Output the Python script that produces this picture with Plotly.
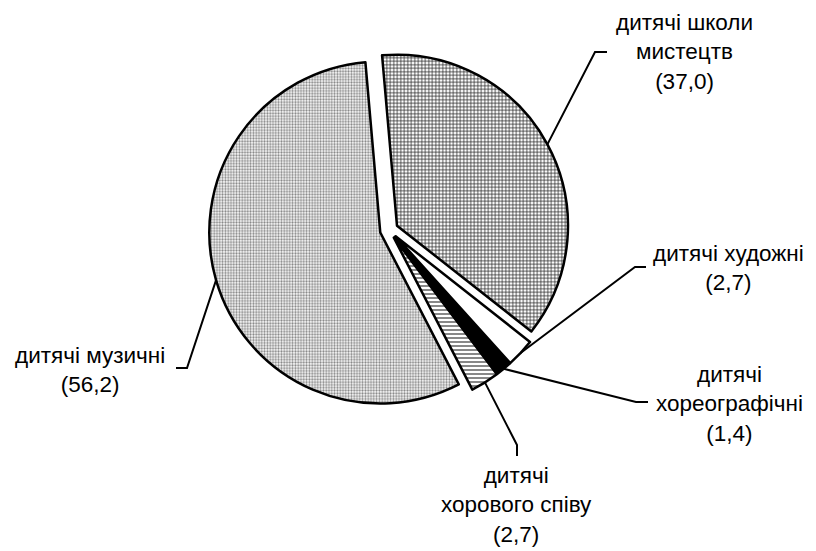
import math
import plotly.graph_objects as go

# ---- data ----
categories = ["дитячі школи мистецтв", "дитячі художні", "дитячі хореографічні",
              "дитячі хорового співу", "дитячі музичні"]
values = [37.0, 2.7, 1.4, 2.7, 56.2]
label_lines = ["дитячі школи<br>мистецтв", "дитячі художні", "дитячі<br>хореографічні",
               "дитячі<br>хорового співу", "дитячі музичні"]

# ---- layout / style ----
W, H = 816, 551
CX, CY = 389, 230          # pie centre in px
R = 171                    # pie radius in px
PULL = 0.053
ROT = -5
FONT = "Liberation Sans, Arial, sans-serif"
FS = 22.5

fill_colors = ["white", "white", "black", "white", "white"]
pat_shapes = ["+", "", "", "-", "."]
pat_fg = ["#222222", "white", "black", "#555555", "#808080"]
pat_bg = ["white", "white", "black", "white", "white"]
pat_size = [3.5, 4, 4, 4, 2.8]
pat_solid = [0.38, 0.3, 0.3, 0.35, 0.45]

# label anchor (px), elbow point and end of the leader line (px)
label_pos = [(684, 52), (728, 268), (729, 404), (516, 505), (90, 370)]
elbow = [(595, 52), (635, 267), (636, 402), (517, 445), (187, 368)]
leader_end = [(607, 52), (646, 267), (648, 402), (517, 456), (176, 368)]

half = R * (1 + PULL)
fig = go.Figure(go.Pie(
    labels=categories, values=values, sort=False, direction="clockwise",
    rotation=ROT, pull=[PULL] * len(values), textinfo="none", showlegend=False,
    hoverinfo="none",
    marker=dict(colors=fill_colors, line=dict(color="black", width=2.5),
                pattern=dict(shape=pat_shapes, fgcolor=pat_fg, bgcolor=pat_bg,
                             size=pat_size, solidity=pat_solid, fillmode="replace")),
    domain=dict(x=[(CX - half) / W, (CX + half) / W],
                y=[1 - (CY + half) / H, 1 - (CY - half) / H]),
))

def px(x, y):
    return x / W, 1 - y / H

total = sum(values)
cum = 0.0
shapes, annotations = [], []
for i, v in enumerate(values):
    mid = (cum + v / 2) / total
    cum += v
    ang = math.radians(ROT + 360 * mid)
    dx, dy = math.sin(ang), -math.cos(ang)
    sx, sy = CX + R * (1 + PULL) * dx, CY + R * (1 + PULL) * dy
    pts = [px(sx, sy), px(*elbow[i]), px(*leader_end[i])]
    path = "M {} {} L {} {} L {} {}".format(*[c for p in pts for c in p])
    shapes.append(dict(type="path", path=path, xref="paper", yref="paper",
                       line=dict(color="black", width=2)))
    lx, ly = px(*label_pos[i])
    txt = label_lines[i] + "<br>(" + f"{v:.1f}".replace(".", ",") + ")"
    annotations.append(dict(x=lx, y=ly, xref="paper", yref="paper", text=txt,
                            showarrow=False, xanchor="center", yanchor="middle",
                            align="center", borderpad=0,
                            font=dict(family=FONT, size=FS, color="black")))

fig.update_layout(width=W, height=H, margin=dict(l=0, r=0, t=0, b=0),
                  paper_bgcolor="white", plot_bgcolor="white",
                  shapes=shapes, annotations=annotations)
fig.write_html("out.html", config={"displayModeBar": False},
               post_script="document.body.style.margin='0';document.body.style.overflow='hidden';")
